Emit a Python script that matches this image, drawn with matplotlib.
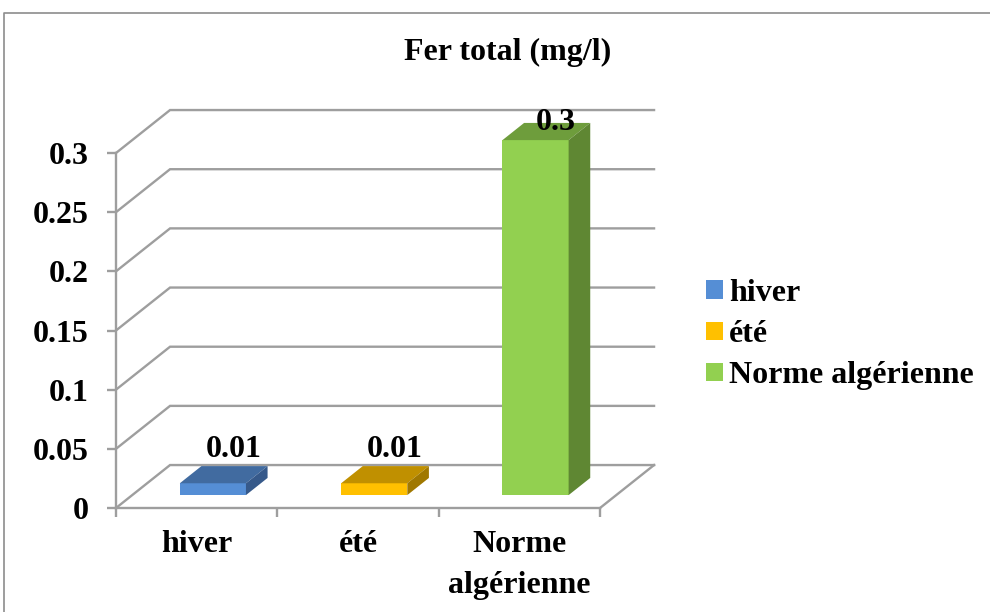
import matplotlib
matplotlib.use("Agg")
import matplotlib.pyplot as plt
from matplotlib.patches import Polygon, Patch
from matplotlib.lines import Line2D

# Data
categories = ["hiver", "été", "Norme\nalgérienne"]
series_names = ["hiver", "été", "Norme algérienne"]
values = [0.01, 0.01, 0.3]
value_labels = ["0.01", "0.01", "0.3"]
yticks = [0, 0.05, 0.1, 0.15, 0.2, 0.25, 0.3]
ytick_labels = ["0", "0.05", "0.1", "0.15", "0.2", "0.25", "0.3"]
title = "Fer total (mg/l)"

# Colours for the three faces of each column
front_colors = ["#558ED5", "#FFC000", "#92D050"]
top_colors = ["#416BA0", "#C09000", "#6E9D3C"]
side_colors = ["#36598A", "#A07800", "#5F8733"]

plt.rcParams['font.family'] = ['Liberation Serif', 'DejaVu Serif']
plt.rcParams['font.weight'] = 'bold'

W, H = 990, 612
FS = 23
GRID = '#9E9E9E'
LW = 1.7

fig = plt.figure(figsize=(W / 100, H / 100), dpi=100)
ax = fig.add_axes([116 / W, 1 - 508 / H, 484 / W, 355 / H])
ax.set_xlim(-0.5, 2.5)
ax.set_ylim(0, 0.3)

# Oblique depth of the 3D box (in data units) and column placement within it
DX, DY = 0.335, 0.0363
D1, D2 = 0.30, 0.70
BW = 0.41

# Side wall + back wall gridlines
x_lo, x_hi = ax.get_xlim()
for v in yticks:
    ax.plot([x_lo, x_lo + DX, x_hi + DX], [v, v + DY, v + DY],
            color=GRID, lw=LW, clip_on=False, zorder=1, solid_joinstyle='miter')
# right edge of the floor
ax.plot([x_hi, x_hi + DX], [0, DY], color=GRID, lw=LW, clip_on=False, zorder=1)

# Axes styling
for s in ("top", "right"):
    ax.spines[s].set_visible(False)
for s in ("left", "bottom"):
    ax.spines[s].set_color(GRID)
    ax.spines[s].set_linewidth(LW)
ax.set_yticks(yticks, ytick_labels, fontsize=FS, fontweight='bold')
ax.tick_params(axis='y', length=6.5, width=LW, color=GRID, pad=13)
ax.set_xticks(range(len(categories)), categories, fontsize=FS, fontweight='bold')
ax.set_xticks([i - 0.5 for i in range(len(categories) + 1)], minor=True)
ax.tick_params(axis='x', which='major', length=0, pad=16)
ax.tick_params(axis='x', which='minor', length=6.5, width=LW, color=GRID)
for lbl in ax.get_xticklabels():
    lbl.set_linespacing(1.55)
ax.set_facecolor('none')

# 3D columns
ax_, ay_ = D1 * DX, D1 * DY
bx_, by_ = D2 * DX, D2 * DY
for i, v in enumerate(values):
    x0, x1 = i - BW / 2, i + BW / 2
    front = [(x0 + ax_, ay_), (x1 + ax_, ay_), (x1 + ax_, v + ay_), (x0 + ax_, v + ay_)]
    top = [(x0 + ax_, v + ay_), (x1 + ax_, v + ay_), (x1 + bx_, v + by_), (x0 + bx_, v + by_)]
    side = [(x1 + ax_, ay_), (x1 + bx_, by_), (x1 + bx_, v + by_), (x1 + ax_, v + ay_)]
    for pts, c in ((front, front_colors[i]), (top, top_colors[i]), (side, side_colors[i])):
        ax.add_patch(Polygon(pts, closed=True, facecolor=c, edgecolor='none',
                             clip_on=False, zorder=3))
    # value label above the column, kept inside the back wall
    ly = min(v + by_ + 0.0137, yticks[-1] + 0.72 * DY)
    ax.text(i + 0.68 * DX, ly, value_labels[i], ha='center', va='center',
            fontsize=FS, fontweight='bold', zorder=5)

# Legend
handles = [Patch(facecolor=c, edgecolor='none') for c in front_colors]
fig.legend(handles, series_names, loc='upper left', bbox_to_anchor=(706 / W, 1 - 279 / H),
           frameon=False, prop={'weight': 'bold', 'size': FS},
           handlelength=0.52, handleheight=0.52, handletextpad=0.2,
           labelspacing=0.38, borderpad=0, borderaxespad=0)

# Title
fig.text(508 / W, 1 - 52 / H, title, ha='center', va='center', fontsize=FS, fontweight='bold')

# Chart area border
fig.add_artist(Line2D([4 / W, 4 / W, 1], [0, 1 - 13 / H, 1 - 13 / H],
                      color='#8C8C8C', lw=1.2))

fig.savefig("out.png", dpi=100, facecolor='white')
